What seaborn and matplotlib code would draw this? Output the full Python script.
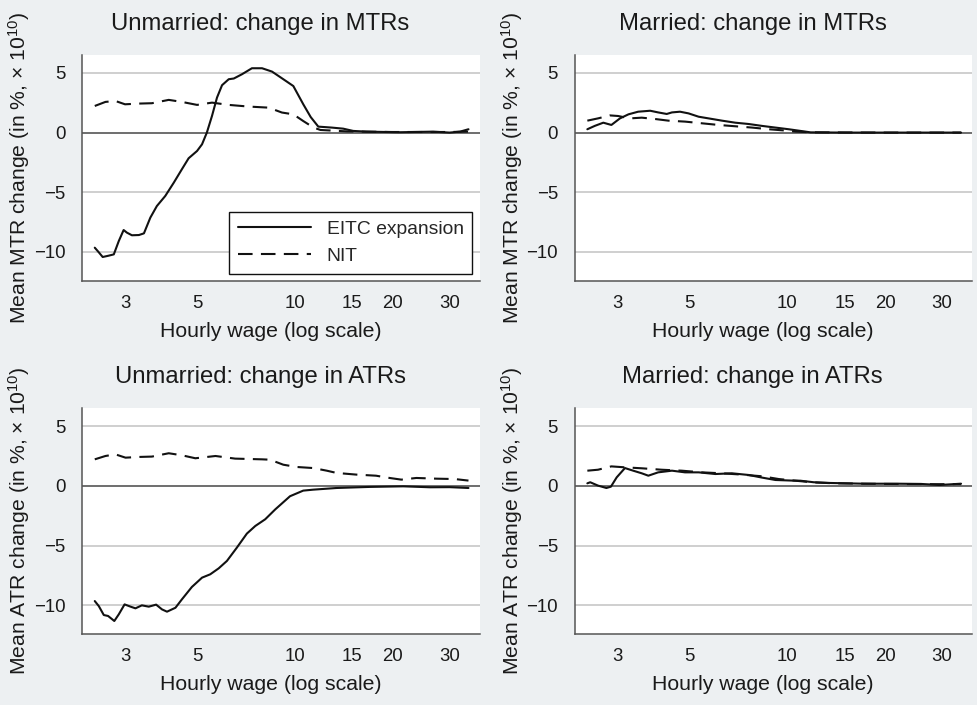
import numpy as np
import pandas as pd
import matplotlib
matplotlib.use("Agg")
import matplotlib.pyplot as plt
from matplotlib.ticker import NullLocator
import seaborn as sns

# === Data (hourly wage, mean change) ===
um_mtr_eitc_x = [2.42, 2.48, 2.56, 2.67, 2.77, 2.87, 2.97, 3.04, 3.15, 3.31, 3.43, 3.59, 3.76, 3.99,
                 4.24, 4.49, 4.71, 5.0, 5.18, 5.36, 5.56, 5.76, 5.97, 6.26, 6.49, 6.88, 7.38, 7.93,
                 8.51, 9.13, 9.9, 10.63, 11.2, 11.82, 13.0, 14.1, 15.14, 16.65, 21.1, 26.7, 30.0,
                 32.3, 34.3]
um_mtr_eitc_y = [-9.64, -9.97, -10.42, -10.31, -10.2, -9.08, -8.16, -8.38, -8.6, -8.58, -8.44, -7.12,
                 -6.15, -5.31, -4.19, -3.07, -2.15, -1.54, -0.98, 0.0, 1.4, 2.93, 3.97, 4.47, 4.53,
                 4.89, 5.39, 5.39, 5.11, 4.55, 3.9, 2.36, 1.3, 0.5, 0.42, 0.33, 0.14, 0.08, 0.03,
                 0.08, 0.0, 0.08, 0.28]
um_mtr_nit_x = [2.42, 2.61, 2.8, 3.0, 3.31, 3.63, 4.09, 4.49, 5.0, 5.56, 6.26, 7.21, 8.31, 9.13, 9.9,
                10.62, 11.43, 12.0, 14.5, 20.0, 30.0, 34.3]
um_mtr_nit_y = [2.23, 2.57, 2.65, 2.37, 2.43, 2.46, 2.74, 2.57, 2.32, 2.51, 2.32, 2.18, 2.09, 1.68,
                1.53, 0.97, 0.42, 0.22, 0.1, 0.05, 0.05, 0.08]

m_mtr_eitc_x = [2.42, 2.55, 2.71, 2.87, 3.05, 3.24, 3.47, 3.78, 4.0, 4.25, 4.41, 4.67, 4.96, 5.33,
                5.72, 6.29, 6.91, 7.6, 8.36, 9.19, 10.1, 11.8, 15.0, 20.0, 30.0, 34.3]
m_mtr_eitc_y = [0.28, 0.56, 0.83, 0.64, 1.19, 1.53, 1.75, 1.83, 1.69, 1.56, 1.69, 1.75, 1.61, 1.33,
                1.19, 1.0, 0.83, 0.72, 0.56, 0.42, 0.28, 0.02, 0.0, 0.0, 0.0, 0.0]
m_mtr_nit_x = [2.42, 2.61, 2.84, 3.01, 3.27, 3.56, 3.91, 4.3, 4.84, 5.45, 6.14, 6.91, 7.79, 8.77,
               9.87, 10.6, 12.0, 20.0, 34.3]
m_mtr_nit_y = [1.0, 1.19, 1.44, 1.39, 1.19, 1.25, 1.14, 1.0, 0.92, 0.78, 0.64, 0.53, 0.42, 0.28,
               0.17, 0.08, 0.02, 0.0, 0.0]

um_atr_eitc_x = [2.42, 2.49, 2.58, 2.66, 2.78, 2.87, 2.99, 3.12, 3.23, 3.38, 3.55, 3.74, 3.9, 4.04,
                 4.29, 4.49, 4.82, 5.18, 5.49, 5.83, 6.18, 6.63, 7.12, 7.56, 8.11, 8.71, 9.67,
                 10.62, 11.4, 13.46, 17.0, 21.6, 26.1, 30.0, 34.3]
um_atr_eitc_y = [-9.64, -10.06, -10.81, -10.89, -11.31, -10.75, -9.92, -10.11, -10.25, -10.0,
                 -10.11, -9.94, -10.34, -10.53, -10.2, -9.5, -8.46, -7.68, -7.4, -6.9, -6.28, -5.17,
                 -3.99, -3.35, -2.79, -1.96, -0.86, -0.39, -0.31, -0.17, -0.08, -0.03, -0.11, -0.1,
                 -0.17]
um_atr_nit_x = [2.42, 2.61, 2.8, 3.01, 3.31, 3.63, 4.09, 4.49, 4.94, 5.7, 6.55, 7.93, 8.39, 9.22,
                10.14, 11.4, 12.55, 13.46, 15.5, 17.8, 19.6, 21.3, 23.7, 27.4, 31.1, 34.3]
um_atr_nit_y = [2.23, 2.51, 2.65, 2.37, 2.43, 2.46, 2.74, 2.57, 2.32, 2.51, 2.29, 2.23, 2.2, 1.78,
                1.59, 1.5, 1.28, 1.09, 0.95, 0.86, 0.67, 0.53, 0.67, 0.61, 0.58, 0.45]

m_atr_eitc_x = [2.42, 2.47, 2.61, 2.77, 2.86, 2.98, 3.16, 3.35, 3.56, 3.73, 4.0, 4.41, 4.84, 5.33,
                6.0, 6.75, 7.6, 8.36, 9.19, 10.35, 10.97, 12.07, 13.58, 17.2, 21.8, 25.8, 29.4,
                34.3]
m_atr_eitc_y = [0.22, 0.31, 0.03, -0.17, -0.06, 0.72, 1.5, 1.28, 1.06, 0.86, 1.14, 1.28, 1.14, 1.14,
                1.0, 1.06, 0.92, 0.7, 0.5, 0.45, 0.44, 0.31, 0.25, 0.19, 0.19, 0.17, 0.08, 0.19]
m_atr_nit_x = [2.42, 2.61, 2.87, 3.16, 3.56, 4.1, 4.73, 5.45, 6.29, 7.25, 8.36, 9.41, 10.5, 12.0,
               14.0, 20.0, 28.0, 34.3]
m_atr_nit_y = [1.28, 1.36, 1.64, 1.56, 1.48, 1.36, 1.28, 1.14, 1.06, 0.95, 0.81, 0.58, 0.45, 0.3,
               0.22, 0.17, 0.15, 0.15]

series_names = ["EITC expansion", "NIT"]
titles = ["Unmarried: change in MTRs", "Married: change in MTRs",
          "Unmarried: change in ATRs", "Married: change in ATRs"]
ylabels = ["Mean MTR change (in %, × 10$^{10}$)", "Mean MTR change (in %, × 10$^{10}$)",
           "Mean ATR change (in %, × 10$^{10}$)", "Mean ATR change (in %, × 10$^{10}$)"]
xticks = [3, 5, 10, 15, 20, 30]
yticks = [5, 0, -5, -10]

panels = [
    (um_mtr_eitc_x, um_mtr_eitc_y, um_mtr_nit_x, um_mtr_nit_y),
    (m_mtr_eitc_x, m_mtr_eitc_y, m_mtr_nit_x, m_mtr_nit_y),
    (um_atr_eitc_x, um_atr_eitc_y, um_atr_nit_x, um_atr_nit_y),
    (m_atr_eitc_x, m_atr_eitc_y, m_atr_nit_x, m_atr_nit_y),
]

# === Style ===
bg = "#EDF0F2"
txt = "#1a1a1a"
sns.set_theme(style="white")
plt.rcParams["font.family"] = ["Liberation Sans", "DejaVu Sans"]
plt.rcParams["mathtext.fontset"] = "custom"
plt.rcParams["mathtext.rm"] = "Liberation Sans"
plt.rcParams["mathtext.it"] = "Liberation Sans"
plt.rcParams["axes.unicode_minus"] = True

fig, axes = plt.subplots(2, 2, figsize=(9.77, 7.05), dpi=100, facecolor=bg)
fig.subplots_adjust(left=0.0839, right=0.995, top=0.922, bottom=0.1007, wspace=0.239, hspace=0.566)

for i, ax in enumerate(axes.flat):
    ex, ey, nx, ny = panels[i]
    df = pd.concat([
        pd.DataFrame({"wage": ex, "value": ey, "series": series_names[0]}),
        pd.DataFrame({"wage": nx, "value": ny, "series": series_names[1]}),
    ])
    ax.set_facecolor("white")
    for yv in [5, -5, -10]:
        ax.axhline(yv, color="#cccccc", lw=1.3, zorder=0.5)
    ax.axhline(0, color="#555555", lw=1.2, zorder=0.6)
    sns.lineplot(data=df, x="wage", y="value", style="series", color="#111111",
                 dashes={"EITC expansion": "", "NIT": (7, 4)}, lw=1.5,
                 legend=(i == 0), ax=ax, zorder=2)
    ax.set_xscale("log")
    ax.set_xlim(2.21, 37.1)
    ax.set_ylim(-12.4, 6.5)
    ax.set_xticks(xticks)
    ax.set_xticklabels([str(t) for t in xticks])
    ax.xaxis.set_minor_locator(NullLocator())
    ax.set_yticks(yticks)
    ax.tick_params(axis="both", direction="out", length=6, width=1, color="#555555",
                   labelsize=13.4, labelcolor=txt)
    ax.tick_params(axis="x", pad=4)
    ax.tick_params(axis="y", pad=6)
    for s in ["top", "right"]:
        ax.spines[s].set_visible(False)
    for s in ["left", "bottom"]:
        ax.spines[s].set_color("#555555")
        ax.spines[s].set_linewidth(1.1)
    ax.set_title(titles[i], fontsize=17.2, color=txt, x=0.448, pad=18)
    ax.set_xlabel("Hourly wage (log scale)", fontsize=15.3, color=txt)
    ax.xaxis.set_label_coords(0.474, -0.183)
    ax.set_ylabel(ylabels[i], fontsize=15.2, color=txt)
    ax.yaxis.set_label_coords(-0.125, 0.5)
    if i == 0:
        handles, labels = ax.get_legend_handles_labels()
        leg = ax.legend(handles, labels, loc="lower right", bbox_to_anchor=(0.982, 0.031),
                        fontsize=13.9, frameon=True, fancybox=False, handlelength=3.8,
                        handletextpad=0.8, borderpad=0.45, labelspacing=0.5,
                        borderaxespad=0)
        leg.get_frame().set_edgecolor("#111111")
        leg.get_frame().set_linewidth(1.0)
        leg.get_frame().set_facecolor("white")
        leg.get_frame().set_alpha(1)

plt.savefig("out.png", dpi=100, facecolor=bg)
